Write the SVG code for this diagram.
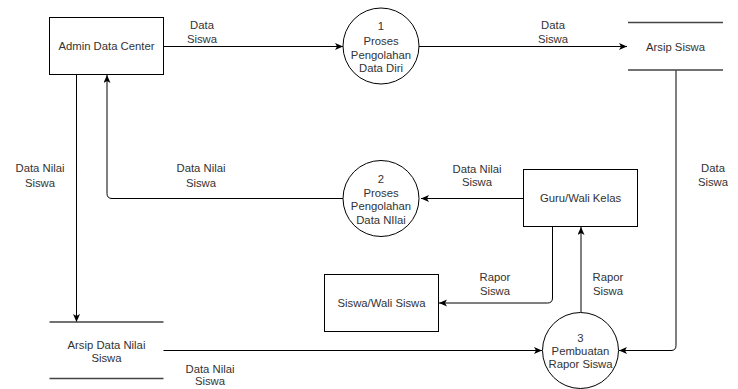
<svg xmlns="http://www.w3.org/2000/svg" width="738" height="389" viewBox="0 0 738 389">
<style>
text{font-family:"Liberation Sans",Arial,Helvetica,sans-serif;font-size:11.3px;fill:#333;text-anchor:middle}
.box{fill:#fff;stroke:#000;stroke-width:1}
.store{stroke:#444;stroke-width:1.3;fill:none}
.c{fill:none;stroke:#000;stroke-width:1}
.ca{fill:none;stroke:#000;stroke-width:1;marker-end:url(#arr)}
</style>
<defs>
<marker id="arr" markerUnits="userSpaceOnUse" markerWidth="10" markerHeight="10" refX="8" refY="3.5" orient="auto">
<path d="M0,0 L8,3.5 L0,7 L2,3.5 z" fill="#000"/>
</marker>
</defs>
<rect width="738" height="389" fill="#fff"/>
<g id="connectors">
<path class="ca" d="M163.5,46.5 H343"/>
<path class="ca" d="M419,46.5 H627"/>
<path class="ca" d="M676,70 V345.5 Q676,350.5 671,350.5 H619"/>
<path class="ca" d="M343,198.5 H112 Q107,198.5 107,193.5 V75"/>
<path class="ca" d="M76.5,74.5 V322"/>
<path class="ca" d="M523.5,198.5 H421"/>
<path class="ca" d="M552.5,226.5 V298 Q552.5,303 547.5,303 H439"/>
<path class="ca" d="M581,312 V227"/>
<path class="ca" d="M163.5,350.5 H542"/>
<g id="labels">
<text x="202" y="29">Data</text><text x="202" y="43">Siswa</text>
<text x="553" y="29">Data</text><text x="553" y="43">Siswa</text>
<text x="713" y="172">Data</text><text x="713" y="186">Siswa</text>
<text x="40" y="172">Data Nilai</text><text x="40" y="187">Siswa</text>
<text x="201" y="172">Data Nilai</text><text x="201" y="187">Siswa</text>
<text x="477" y="173">Data Nilai</text><text x="477" y="186">Siswa</text>
<text x="495" y="281">Rapor</text><text x="495" y="295">Siswa</text>
<text x="608" y="281">Rapor</text><text x="608" y="295">Siswa</text>
<text x="210" y="373">Data Nilai</text><text x="210" y="385">Siswa</text>
</g>
</g>
<g id="admin">
<rect class="box" x="49.5" y="17.5" width="114" height="57"/>
<text x="106.5" y="50">Admin Data Center</text>
</g>
<g id="proses1">
<circle class="box" cx="381" cy="46" r="38"/>
<text x="381" y="30">1</text><text x="381" y="44.5">Proses</text><text x="381" y="58.5">Pengolahan</text><text x="381" y="72">Data Diri</text>
</g>
<g id="arsip-siswa">
<path class="store" d="M628,22.5 H723 M628,70 H723"/>
<text x="675.5" y="51">Arsip Siswa</text>
</g>
<g id="proses2">
<circle class="box" cx="381" cy="198.5" r="38"/>
<text x="381" y="183">2</text><text x="381" y="196.5">Proses</text><text x="381" y="210">Pengolahan</text><text x="381" y="223.5">Data NIlai</text>
</g>
<g id="guru">
<rect class="box" x="523.5" y="169.5" width="114" height="57"/>
<text x="580.5" y="202">Guru/Wali Kelas</text>
</g>
<g id="siswa-wali">
<rect class="box" x="324.5" y="274.5" width="114" height="57"/>
<text x="381.5" y="307">Siswa/Wali Siswa</text>
</g>
<g id="proses3">
<circle class="box" cx="580.5" cy="350.5" r="38"/>
<text x="580.5" y="341.5">3</text><text x="580.5" y="355">Pembuatan</text><text x="580.5" y="368">Rapor Siswa</text>
</g>
<g id="arsip-nilai">
<path class="store" d="M49.5,322 H163.5 M49.5,378.5 H163.5"/>
<text x="106.5" y="348.5">Arsip Data Nilai</text><text x="106.5" y="361.5">Siswa</text>
</g>
</svg>
